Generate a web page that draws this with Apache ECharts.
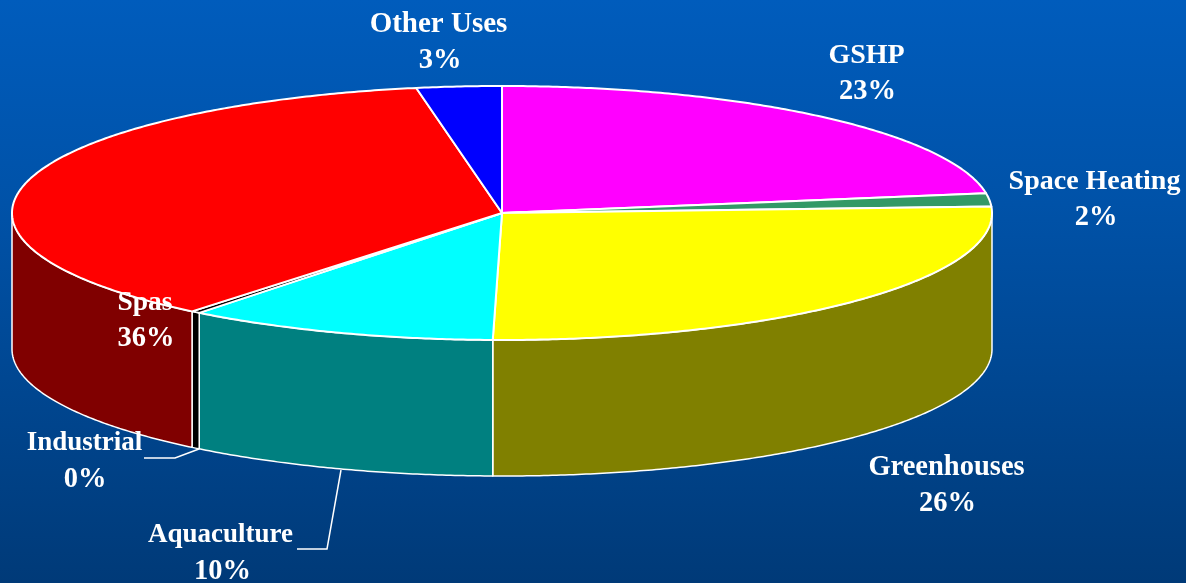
<!DOCTYPE html>
<html>
<head>
<meta charset="utf-8">
<title>Geothermal uses</title>
<script src="https://cdn.jsdelivr.net/npm/echarts@6/dist/echarts.min.js"></script>
<style>
  html, body { margin: 0; padding: 0; background: #003a78; }
  #chart { width: 1186px; height: 583px; }
</style>
</head>
<body>
<div id="chart"></div>
<script>
// clockwise from 12 o'clock
var categories = ['GSHP', 'Space Heating', 'Greenhouses', 'Aquaculture', 'Industrial', 'Spas', 'Other Uses'];
var shares = [22.5, 1.7, 26.1, 10.3, 0.3, 36.3, 2.8];

var topColors = ['#ff00ff', '#339966', '#ffff00', '#00ffff', '#000000', '#ff0000', '#0000ff'];
var wallColors = ['#800080', '#1a4d33', '#808000', '#008080', '#000000', '#800000', '#000080'];

// label centres, same order as categories
var nameSpots = [[866.5, 55.5], [1094.5, 181.5], [946.5, 467.5], [220.5, 535.5], [84.5, 443.5], [145, 302.5], [438.5, 24.5]];
var percentSpots = [[867.5, 91.5], [1096, 217.5], [947.5, 503.5], [222.5, 571.5], [85, 479.5], [146, 338.5], [440, 60.5]];
var nameSizes = [28, 28, 28.5, 27, 27, 27.5, 29];
var percentSize = 28.5;
var leaderLines = [
  [[144, 458], [175, 458], [199, 449]],
  [[297, 549], [327, 549], [341, 470]]
];

var cx = 502, cy = 213, rx = 490, ry = 127, depth = 136;
var labelFamily = '"Liberation Serif", "Times New Roman", serif';

var total = shares.reduce(function (a, b) { return a + b; }, 0);
var startAngles = [];
var sum = 0;
shares.forEach(function (v) {
  startAngles.push(sum / total * 360);
  sum += v;
});

function rimPoint(deg, drop) {
  var t = deg * Math.PI / 180;
  return [cx + rx * Math.sin(t), cy - ry * Math.cos(t) + (drop || 0)];
}

function arc(from, to, drop) {
  var pts = [];
  var steps = Math.max(2, Math.ceil((to - from) * 2));
  for (var i = 0; i <= steps; i++) {
    pts.push(rimPoint(from + (to - from) * i / steps, drop));
  }
  return pts;
}

function sliceRange(i) {
  return [startAngles[i], startAngles[i] + shares[i] / total * 360];
}

function renderWall(params) {
  var i = params.dataIndex;
  var r = sliceRange(i);
  // only the front half of the rim shows a wall
  var from = Math.max(r[0], 90), to = Math.min(r[1], 270);
  if (to <= from) return null;
  var pts = arc(from, to, 0).concat(arc(from, to, depth).reverse());
  return {
    type: 'polygon',
    shape: { points: pts },
    style: { fill: wallColors[i], stroke: '#ffffff', lineWidth: 1.5, lineJoin: 'round' }
  };
}

function renderTop(params) {
  var i = params.dataIndex;
  var r = sliceRange(i);
  var pts = [[cx, cy]].concat(arc(r[0], r[1], 0));
  return {
    type: 'polygon',
    shape: { points: pts },
    style: { fill: topColors[i], stroke: '#ffffff', lineWidth: 2, lineJoin: 'round' }
  };
}

function labelText(text, spot, size) {
  return {
    type: 'text',
    style: {
      text: text,
      x: spot[0],
      y: spot[1],
      align: 'center',
      verticalAlign: 'middle',
      font: 'bold ' + size + 'px ' + labelFamily,
      fill: '#ffffff'
    }
  };
}

function renderLabel(params) {
  var i = params.dataIndex;
  return {
    type: 'group',
    children: [
      labelText(categories[i], nameSpots[i], nameSizes[i]),
      labelText(Math.round(shares[i]) + '%', percentSpots[i], percentSize)
    ]
  };
}

function renderLeader(params) {
  return {
    type: 'polyline',
    shape: { points: leaderLines[params.dataIndex] },
    style: { stroke: '#ffffff', lineWidth: 1.5, fill: null }
  };
}

function layer(render, data) {
  return {
    type: 'custom',
    coordinateSystem: 'none',
    silent: true,
    renderItem: render,
    data: data
  };
}

var chart = echarts.init(document.getElementById('chart'));
chart.setOption({
  animation: false,
  backgroundColor: {
    type: 'linear', x: 0, y: 0, x2: 0, y2: 1,
    colorStops: [
      { offset: 0, color: '#005cbc' },
      { offset: 0.35, color: '#0052a8' },
      { offset: 1, color: '#003a78' }
    ]
  },
  series: [
    layer(renderWall, shares),
    layer(renderTop, shares),
    layer(renderLeader, leaderLines.map(function (l, i) { return i; })),
    layer(renderLabel, shares)
  ]
});
</script>
</body>
</html>
